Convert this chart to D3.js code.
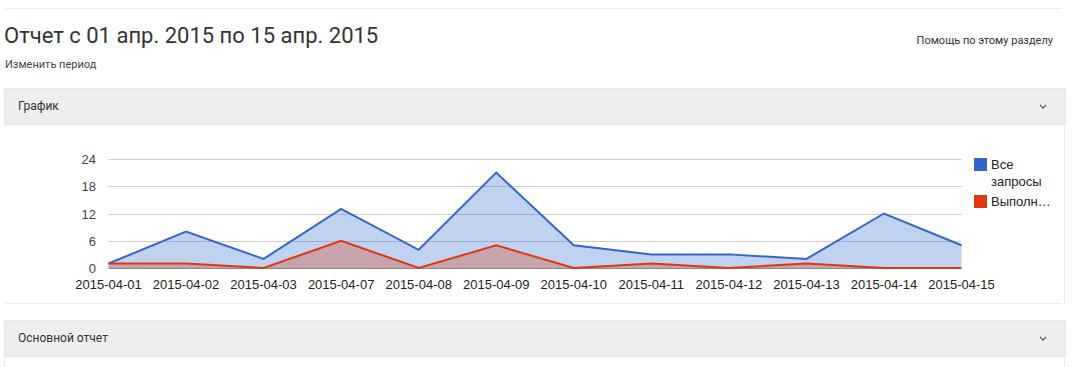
<!DOCTYPE html>
<html lang="ru">
<head>
  <meta charset="UTF-8">
  <title>Отчет</title>
  <script src="https://d3js.org/d3.v7.min.js"></script>
  <style>
    body {
      margin: 0;
      width: 1072px;
      height: 367px;
      overflow: hidden;
      background: white;
      font-family: Roboto, Arial, sans-serif;
      color: #333;
      position: relative;
    }
    .rule {
      position: absolute;
      left: 5px;
      width: 1057px;
      height: 1px;
      background: #eeeeee;
    }
    #title {
      position: absolute;
      left: 4px;
      top: 23px;
      font-size: 22px;
      font-weight: 400;
      color: #333;
      white-space: nowrap;
    }
    #change {
      position: absolute;
      left: 5px;
      top: 58px;
      font-size: 11px;
      color: #444;
    }
    #help {
      position: absolute;
      right: 19px;
      top: 34px;
      font-size: 11px;
      color: #333;
    }
    .panel {
      position: absolute;
      left: 4px;
      height: 35px;
      background: #eeeeee;
      border: 1px solid #e8e8e8;
      font-size: 12px;
      color: #333;
      line-height: 35px;
      padding-left: 13px;
      box-sizing: content-box;
    }
    .body-border {
      position: absolute;
      width: 1px;
      background: #eeeeee;
    }
    #chart {
      position: absolute;
      left: 0;
      top: 125px;
    }
    #chart text {
      font-family: "Liberation Sans", Arial, sans-serif;
    }
  </style>
</head>
<body>
  <div class="rule" style="top:8px"></div>
  <div id="title">Отчет с 01 апр. 2015 по 15 апр. 2015</div>
  <div id="change">Изменить период</div>
  <div id="help">Помощь по этому разделу</div>
  <div class="panel" style="top:88px; width:1047px">График<svg width="10" height="35" style="position:absolute; right:17px; top:0"><path d="M2,16 L5,19 L8,16" fill="none" stroke="#666" stroke-width="1.3"/></svg></div>
  <div class="body-border" style="left:1064px; top:124px; height:180px"></div>
  <div class="rule" style="top:303px"></div>
  <div class="panel" style="top:320px; width:1047px">Основной отчет<svg width="10" height="35" style="position:absolute; right:17px; top:0"><path d="M2,16 L5,19 L8,16" fill="none" stroke="#666" stroke-width="1.3"/></svg></div>
  <div class="body-border" style="left:4px; top:356px; height:11px"></div>
  <div class="body-border" style="left:1064px; top:356px; height:11px"></div>
  <svg id="chart" width="1072" height="178"></svg>

  <script>
    const dates = ["2015-04-01", "2015-04-02", "2015-04-03", "2015-04-07", "2015-04-08", "2015-04-09",
                   "2015-04-10", "2015-04-11", "2015-04-12", "2015-04-13", "2015-04-14", "2015-04-15"];
    const allRequests = [1, 8, 2, 13, 4, 21, 5, 3, 3, 2, 12, 5];
    const completed   = [1, 1, 0, 6, 0, 5, 0, 1, 0, 1, 0, 0];
    const yTicks = [0, 6, 12, 18, 24];
    const seriesNames = ["Все запросы", "Выполн…"];
    const seriesColors = ["#3366cc", "#dc3912"];

    const svg = d3.select("#chart");
    // chart svg starts at page y=125
    const plotTop = 34, plotBottom = 143, plotLeft = 108.5, plotRight = 961.5;

    const x = d3.scalePoint().domain(dates).range([plotLeft, plotRight]);
    const y = d3.scaleLinear().domain([0, 24]).range([plotBottom, plotTop]);

    // gridlines
    svg.append("g")
      .selectAll("line")
      .data(yTicks.filter(t => t !== 0))
      .join("line")
      .attr("x1", plotLeft).attr("x2", plotRight)
      .attr("y1", d => Math.round(y(d)) + 0.5).attr("y2", d => Math.round(y(d)) + 0.5)
      .attr("stroke", "#cccccc");

    // y labels
    svg.append("g")
      .selectAll("text")
      .data(yTicks)
      .join("text")
      .attr("x", 96)
      .attr("y", d => y(d) + 5)
      .attr("text-anchor", "end")
      .attr("font-size", 13)
      .attr("fill", "#444")
      .text(d => d);

    const series = [allRequests, completed];
    const area = d3.area()
      .x((d, i) => x(dates[i]))
      .y0(y(0))
      .y1(d => y(d));
    const line = d3.line()
      .x((d, i) => x(dates[i]))
      .y(d => y(d));

    series.forEach((vals, k) => {
      svg.append("path")
        .attr("d", area(vals))
        .attr("fill", seriesColors[k])
        .attr("fill-opacity", 0.3);
    });

    // baseline
    svg.append("line")
      .attr("x1", plotLeft).attr("x2", plotRight)
      .attr("y1", y(0) + 0.5).attr("y2", y(0) + 0.5)
      .attr("stroke", "#888")
      .attr("stroke-width", 1);

    series.forEach((vals, k) => {
      svg.append("path")
        .attr("d", line(vals))
        .attr("fill", "none")
        .attr("stroke", seriesColors[k])
        .attr("stroke-width", 2);
    });

    // x labels
    svg.append("g")
      .selectAll("text")
      .data(dates)
      .join("text")
      .attr("x", d => x(d))
      .attr("y", 164)
      .attr("text-anchor", "middle")
      .attr("font-size", 13)
      .attr("fill", "#222")
      .text(d => d);

    // legend
    const legend = svg.append("g").attr("transform", "translate(974,33)");
    legend.append("rect").attr("x", 0).attr("y", 0).attr("width", 13).attr("height", 13)
      .attr("fill", seriesColors[0]);
    legend.append("text").attr("x", 17).attr("y", 11).attr("font-size", 13).attr("fill", "#222").text("Все");
    legend.append("text").attr("x", 17).attr("y", 28).attr("font-size", 13).attr("fill", "#222").text("запросы");
    legend.append("rect").attr("x", 0).attr("y", 37).attr("width", 13).attr("height", 13)
      .attr("fill", seriesColors[1]);
    legend.append("text").attr("x", 17).attr("y", 48).attr("font-size", 13).attr("fill", "#222").text(seriesNames[1]);
  </script>
</body>
</html>
